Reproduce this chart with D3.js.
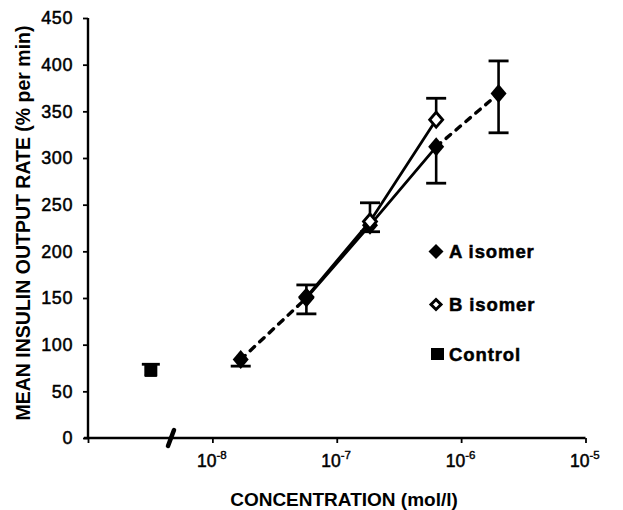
<!DOCTYPE html>
<html><head><meta charset="utf-8">
<script src="https://cdn.jsdelivr.net/npm/d3@7"></script>
<style>body{margin:0;background:#fff}svg{display:block}</style>
</head><body>
<svg id="c" width="623" height="510"></svg>
<script>
// ---- data ----
const concentrations = [1.69e-8, 5.7e-8, 1.85e-7, 6.3e-7, 2.0e-6];
const rateA = [84, 150, 228, 312, 369];
const errLowA = [7, 17, 7, 39, 42];
const errHighA = [0, 0, 0, 0, 35];
const rateB = [null, 151, 232, 341, null];
const errHighB = [0, 13, 20, 23, 0];
const controlConc = [3.2e-9];
const controlRate = [73];
const controlErr = [6];
const yTicks = [0, 50, 100, 150, 200, 250, 300, 350, 400, 450];
const xTickExps = [-8, -7, -6, -5];
const legendLabels = ["A isomer", "B isomer", "Control"];

// ---- layout ----
const svg = d3.select("#c");
const x = d3.scaleLog().domain([1e-9, 1e-5]).range([88, 585.5]);
const y = d3.scaleLinear().domain([0, 450]).range([438, 18]);
const font = "'Liberation Sans', Arial, sans-serif";

// axes
const yAxis = d3.axisLeft(y).tickValues(yTicks).tickSize(5).tickPadding(10).tickFormat(d3.format("d"));
const gy = svg.append("g").attr("transform", "translate(88,0)").call(yAxis);
gy.select(".domain").attr("d", `M0,${y(0)}V${y(450)}`).attr("stroke-width", 2.4);
gy.selectAll(".tick line").attr("stroke-width", 1.8);
gy.selectAll(".tick text").attr("font-family", font).attr("font-size", 18).attr("fill", "#000")
  .attr("letter-spacing", 0.6).attr("stroke", "#000").attr("stroke-width", 0.5);

const xAxis = d3.axisBottom(x).tickValues([1e-9, ...xTickExps.map(e => Math.pow(10, e))]).tickSize(5).tickFormat("");
const gx = svg.append("g").attr("transform", `translate(0,${y(0)})`).call(xAxis);
gx.select(".domain").attr("d", `M84,0H${x(1e-5)}`).attr("stroke-width", 2.6);
gx.selectAll(".tick line").attr("stroke-width", 1.8);
// tick labels with superscript
xTickExps.forEach(e => {
  svg.append("text").attr("x", x(Math.pow(10, e)) + 4).attr("y", 467)
    .attr("text-anchor", "end").attr("font-family", font).attr("font-size", 17.5)
    .attr("stroke", "#000").attr("stroke-width", 0.5).text("10");
  svg.append("text").attr("x", x(Math.pow(10, e)) + 4).attr("y", 459)
    .attr("font-family", font).attr("font-size", 11.5)
    .attr("stroke", "#000").attr("stroke-width", 0.4).text(String(e));
});
// axis break
const bx = 171;
svg.append("path").attr("d", `M${bx - 3},${y(0) + 8}L${bx + 3},${y(0) - 8}`)
  .attr("stroke", "#000").attr("stroke-width", 4.5).attr("stroke-linecap", "round");

// titles
svg.append("text").attr("transform", "translate(30,223) rotate(-90)")
  .attr("text-anchor", "middle").attr("font-family", font).attr("font-weight", "bold")
  .attr("font-size", 19.5).text("MEAN INSULIN OUTPUT RATE (% per min)");
svg.append("text").attr("x", 344).attr("y", 506).attr("text-anchor", "middle")
  .attr("font-family", font).attr("font-weight", "bold").attr("font-size", 19)
  .text("CONCENTRATION (mol/l)");

// lines
const line = d3.line().x(d => x(d[0])).y(d => y(d[1]));
const ptsA = concentrations.map((c, i) => [c, rateA[i]]);
const ptsB = concentrations.map((c, i) => [c, rateB[i]]).filter(d => d[1] != null);
const dashStyle = g => g.attr("fill", "none").attr("stroke", "#000").attr("stroke-width", 3.4)
  .attr("stroke-dasharray", "6,7").attr("stroke-linecap", "round");
svg.append("path").datum(ptsA.slice(0, 2)).attr("d", line).call(dashStyle);
svg.append("path").datum(ptsA.slice(3, 5)).attr("d", line).call(dashStyle);
svg.append("path").datum(ptsA.slice(1, 4)).attr("d", line).attr("fill", "none").attr("stroke", "#000").attr("stroke-width", 2.8);
svg.append("path").datum(ptsB).attr("d", line).attr("fill", "none").attr("stroke", "#000").attr("stroke-width", 2.8);

// error bars
function errBar(cx, v0, v1, cap) {
  svg.append("line").attr("x1", cx).attr("x2", cx).attr("y1", y(v0)).attr("y2", y(v1)).attr("stroke", "#000").attr("stroke-width", 2.6);
  svg.append("line").attr("x1", cx - cap).attr("x2", cx + cap).attr("y1", y(v1)).attr("y2", y(v1)).attr("stroke", "#000").attr("stroke-width", 2.8);
}
concentrations.forEach((c, i) => {
  const cx = x(c);
  if (errLowA[i]) errBar(cx, rateA[i], rateA[i] - errLowA[i], 10);
  if (errHighA[i]) errBar(cx, rateA[i], rateA[i] + errHighA[i], 10);
  if (errHighB[i] && rateB[i] != null) errBar(cx, rateB[i], rateB[i] + errHighB[i], 10);
});
controlConc.forEach((c, i) => {
  errBar(x(c), controlRate[i], controlRate[i] + controlErr[i], 9);
  errBar(x(c), controlRate[i], controlRate[i] - controlErr[i], 6);
});

// markers
const diamond = (w, h) => `M0,${-h}L${w},0L0,${h}L${-w},0Z`;
concentrations.forEach((c, i) => {
  if (rateB[i] != null) svg.append("path").attr("d", diamond(6.5, 7.5))
    .attr("transform", `translate(${x(c)},${y(rateB[i])})`).attr("fill", "#fff").attr("stroke", "#000").attr("stroke-width", 2.8);
});
concentrations.forEach((c, i) => {
  if (i === 2) return;
  svg.append("path").attr("d", diamond(8, 9.5))
    .attr("transform", `translate(${x(c)},${y(rateA[i])})`).attr("fill", "#000");
});
// A point 3 drawn under B (partially visible)
svg.append("path").attr("d", diamond(8, 9.5)).lower()
  .attr("transform", `translate(${x(concentrations[2])},${y(rateA[2])})`).attr("fill", "#000");
controlConc.forEach((c, i) => {
  svg.append("rect").attr("x", x(c) - 6.5).attr("y", y(controlRate[i]) - 6.5).attr("width", 13).attr("height", 13).attr("fill", "#000");
});

// legend
const lyC = [251.5, 304.5, 354];
legendLabels.forEach((lab, i) => {
  const g = svg.append("g").attr("transform", `translate(436,${lyC[i]})`);
  if (i === 0) g.append("path").attr("d", diamond(7.5, 7.5)).attr("fill", "#000");
  if (i === 1) g.append("path").attr("d", diamond(5, 5)).attr("fill", "#fff").attr("stroke", "#000").attr("stroke-width", 3);
  if (i === 2) g.append("rect").attr("x", -5).attr("y", -6).attr("width", 13).attr("height", 12).attr("fill", "#000");
  g.append("text").attr("x", 13).attr("y", 6.8).attr("font-family", font).attr("font-weight", "bold")
    .attr("font-size", 18.5).attr("letter-spacing", 0.9)
    .attr("stroke", "#000").attr("stroke-width", 0.5).text(lab);
});
</script>
</body></html>
